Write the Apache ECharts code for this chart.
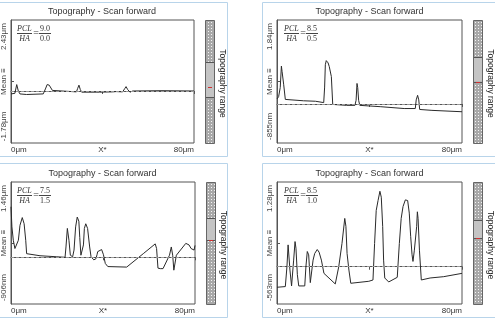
<!DOCTYPE html>
<html><head><meta charset="utf-8">
<script src="https://cdn.jsdelivr.net/npm/echarts@6/dist/echarts.min.js"></script>
<style>html,body{margin:0;padding:0;background:#fff}#c{width:495px;height:321px}</style>
</head><body><div id="c"></div><script>
// ---- data (x in µm, height in µm) ----
const titles = ['Topography - Scan forward','Topography - Scan forward','Topography - Scan forward','Topography - Scan forward'];
const pclValues = ['9.0','8.5','7.5','8.5'];
const haValues  = ['0.0','0.5','1.5','1.0'];
const yMin = [-1.78, -0.855, -0.906, -0.563];
const yMax = [2.43, 1.84, 1.46, 1.28];
const yTopLabels = ['2.43μm','1.84μm','1.46μm','1.28μm'];
const yBottomLabels = ['-1.78μm','-855nm','-906nm','-563nm'];
const meanLabel = 'Mean ≡';
const xTickLabels = ['0μm','X*','80μm'];
const xTickValues = [0, 40, 80];
const rangeTop = [0.34, 0.30, 0.295, 0.31];
const rangeBottom = [0.63, 0.50, 0.475, 0.46];
const rangeMark = [0.545, 0.50, 0.475, 0.46];

const x1 = [0,1.7,2.5,3.2,3.9,6.8,14.1,15.2,15.8,16.7,17.2,18.1,18.7,28.6,29.1,29.7,30.3,30.9,37.2,38.0,38.7,44.5,45.2,45.9,48.8,49.7,50.3,51.0,52.0,53.2,66,80];
const y1 = [-0.10,-0.08,0.22,0.0,-0.10,-0.12,-0.10,0.10,0.22,0.20,0.22,0.02,-0.04,-0.03,0.08,0.20,0.05,-0.04,-0.04,-0.07,-0.04,-0.03,0.02,-0.02,-0.03,0.08,0.15,0.05,-0.04,0.0,0.01,0.0];

const x2 = [0,0.7,1.4,1.9,2.2,2.5,2.9,3.6,11.5,16.6,20.2,20.6,20.9,21.3,22.1,22.6,23.1,23.5,24.1,30.1,33.7,34.2,34.6,34.9,35.3,35.8,44.9,55.0,59.8,60.2,60.8,61.3,61.7,67.0,80];
const y2 = [0.11,0.16,0.36,0.83,0.71,0.75,0.42,0.10,0.07,0.06,0.03,0.37,0.86,0.95,0.90,0.82,0.84,0.60,-0.01,-0.03,-0.03,0.08,0.45,0.36,0.08,-0.03,-0.06,-0.10,-0.10,0.09,0.19,0.09,-0.12,-0.14,-0.17];

const x3 = [0,0.4,1.0,1.7,2.5,3.2,3.9,4.9,5.7,6.4,6.8,7.2,12.6,19.9,23.5,23.9,24.5,24.8,25.2,25.8,26.8,27.4,28.1,28.8,29.5,29.9,30.4,30.9,31.5,31.9,32.5,33.3,34.2,34.8,35.4,36.0,36.9,37.4,37.7,38.5,39.4,40.2,41.0,41.7,42.1,42.8,50.3,57.5,62.7,63.3,63.9,64.3,64.9,66.1,68.9,69.7,70.3,70.8,71.4,71.9,76.0,76.7,77.4,78.3,79.1,79.6,80];
const y3 = [0.98,0.59,0.33,0.17,0.14,0.33,0.62,0.77,0.65,0.33,0.07,0.05,0.03,0.01,0.0,0.20,0.56,0.59,0.33,0.04,0.01,0.14,0.59,0.78,0.70,0.38,0.04,0.01,0.24,0.56,0.65,0.56,0.20,0.01,-0.02,-0.05,-0.03,0.05,0.11,0.14,0.15,0.05,-0.12,-0.15,-0.18,-0.19,-0.19,0.07,0.26,0.17,-0.21,-0.22,-0.22,-0.22,0.04,0.20,0.04,-0.25,-0.25,0.04,0.27,0.30,0.24,0.17,0.20,0.14,0.23];

const x4 = [0,3.6,4.3,4.8,5.2,5.6,6.3,6.8,7.2,7.8,8.2,8.8,9.4,12.0,12.5,13.1,13.7,14.4,14.8,15.6,16.3,17.4,18.2,19.2,20.3,25.2,26.7,28.1,29.3,29.8,30.3,31.1,31.9,39.7,41.5,42.2,42.9,43.7,44.5,45.1,45.7,46.1,46.6,48.3,52.0,52.9,53.7,54.5,55.5,56.5,57.2,57.8,58.4,58.8,59.4,59.8,60.4,60.7,61.0,61.6,62.4,66.2,72.1,80];
const y4 = [-0.31,-0.30,0.00,0.33,0.31,-0.05,-0.29,-0.29,0.10,0.38,0.28,-0.12,-0.29,-0.29,0.00,0.23,0.18,-0.24,-0.26,0.10,0.20,0.26,0.22,0.10,-0.10,-0.26,0.00,0.35,0.73,0.61,0.20,-0.05,-0.25,-0.22,-0.20,0.35,0.85,1.00,1.14,1.05,0.61,0.10,-0.17,-0.23,-0.16,0.35,0.73,0.91,1.01,1.00,0.81,0.46,0.18,0.08,0.25,0.28,0.61,0.83,0.73,0.25,-0.20,-0.17,-0.15,-0.10];

const xsAll = [x1,x2,x3,x4];
const ysAll = [y1,y2,y3,y4];

// ---- layout ----
const grids = [
  {left:10, top:20, width:184, height:123},
  {left:277, top:20, width:185, height:123},
  {left:10, top:182, width:185, height:122},
  {left:277, top:182, width:185, height:122}
];
const frames = [[-1,2,228,154],[262,2,240,154],[-1,163,228,154],[262,163,240,154]];
const sans = 'Arial, "Liberation Sans", sans-serif';
const serif = '"Liberation Serif", "DejaVu Serif", serif';

// dotted pattern
const pc = document.createElement('canvas');
pc.width = 3; pc.height = 3;
const pctx = pc.getContext('2d');
pctx.fillStyle = '#a8a8a8'; pctx.fillRect(0,0,3,3);
pctx.fillStyle = '#f4f4f4'; pctx.fillRect(1,1,1,1);

const option = {
  animation:false,
  backgroundColor:'#fff',
  title:[], grid:[], xAxis:[], yAxis:[], series:[], graphic:[]
};

for (let i=0;i<4;i++){
  const g = grids[i];
  const lo = yMin[i], hi = yMax[i], rng = hi-lo;
  const mid = lo + rng*0.5, lowPos = lo + rng*0.135, highPos = lo + rng*0.865;
  option.grid.push({left:g.left, top:g.top, width:g.width, height:g.height, show:true, borderColor:'#555', borderWidth:1, containLabel:false});
  option.title.push({text:titles[i], left:g.left+g.width/2, top:g.top-13, textAlign:'center', padding:0,
    textStyle:{fontSize:9, fontWeight:'normal', color:'#333', fontFamily:sans}});
  option.xAxis.push({type:'value', gridIndex:i, min:0, max:80,
    axisLine:{show:true, lineStyle:{color:'#555', width:1}},
    axisTick:{show:true, customValues:xTickValues, length:3, lineStyle:{color:'#555'}},
    splitLine:{show:false},
    axisLabel:{customValues:xTickValues, fontSize:8, color:'#333', fontFamily:sans, margin:3,
      alignMinLabel:'left', alignMaxLabel:'right',
      formatter:(v)=>{const k=xTickValues.indexOf(v); return k>=0?xTickLabels[k]:'';}}});
  const labPos = [lowPos, mid, highPos];
  const labTxt = [yBottomLabels[i], meanLabel, yTopLabels[i]];
  option.yAxis.push({type:'value', gridIndex:i, min:lo, max:hi,
    axisLine:{show:true, lineStyle:{color:'#555', width:1}},
    axisTick:{show:true, inside:true, customValues:[mid], length:3, lineStyle:{color:'#555'}},
    splitLine:{show:false},
    axisLabel:{customValues:labPos, rotate:90, fontSize:8, color:'#444', fontFamily:sans, margin:3,
      formatter:(v)=>{for(let k=0;k<3;k++){ if(Math.abs(v-labPos[k])<1e-6) return labTxt[k]; } return '';}}});
  option.series.push({type:'line', xAxisIndex:i, yAxisIndex:i, showSymbol:false, symbol:'none',
    data: xsAll[i].map((x,k)=>[x, ysAll[i][k]]),
    lineStyle:{color:'#2a2a2a', width:1}, silent:true,
    markLine:{silent:true, symbol:'none', label:{show:false},
      lineStyle:{color:'#999', type:[3,2], width:1}, data:[{yAxis:0}]}});

  // frame
  const f = frames[i];
  option.graphic.push({type:'rect', shape:{x:f[0]+0.5,y:f[1]+0.5,width:f[2],height:f[3]}, style:{fill:'none', stroke:'#b8d4ea', lineWidth:1}, silent:true, z:-1});
  // colorbar
  const cbx = g.left + g.width + 11, cbw = 9;
  option.graphic.push({type:'rect', shape:{x:cbx+0.5, y:g.top+0.5, width:cbw, height:g.height}, style:{fill:{image:pc, repeat:'repeat'}, stroke:'#666', lineWidth:1}, silent:true});
  const sy0 = g.top + g.height*rangeTop[i], sy1 = g.top + g.height*rangeBottom[i];
  option.graphic.push({type:'rect', shape:{x:cbx+1, y:sy0, width:cbw-1, height:sy1-sy0}, style:{fill:'#c4c4c4', stroke:null}, silent:true});
  option.graphic.push({type:'line', shape:{x1:cbx+1, y1:Math.round(sy0)+0.5, x2:cbx+cbw, y2:Math.round(sy0)+0.5}, style:{stroke:'#555', lineWidth:1}, silent:true});
  option.graphic.push({type:'line', shape:{x1:cbx+1, y1:Math.round(sy1)+0.5, x2:cbx+cbw, y2:Math.round(sy1)+0.5}, style:{stroke:'#555', lineWidth:1}, silent:true});
  const my = Math.round(g.top + g.height*rangeMark[i])+0.5;
  option.graphic.push({type:'line', shape:{x1:cbx+3, y1:my, x2:cbx+7, y2:my}, style:{stroke:'#d23030', lineWidth:1}, silent:true});
  // Topography range label
  option.graphic.push({type:'text', x:cbx+17, y:g.top+g.height/2+2, rotation:-Math.PI/2,
    style:{text:'Topography range', fontSize:8.5, fill:'#222', fontFamily:sans, align:'center', verticalAlign:'middle'}, silent:true});
  // formula
  const L = g.left, T = g.top;
  option.graphic.push({type:'text', x:L+7, y:T+9, style:{text:'PCL', font:'italic 8px '+serif, fill:'#333', align:'left', verticalAlign:'middle'}, silent:true});
  option.graphic.push({type:'line', shape:{x1:L+7, y1:T+13.5, x2:L+22, y2:T+13.5}, style:{stroke:'#444', lineWidth:1}, silent:true});
  option.graphic.push({type:'text', x:L+14.5, y:T+19, style:{text:'HA', font:'italic 8px '+serif, fill:'#333', align:'center', verticalAlign:'middle'}, silent:true});
  option.graphic.push({type:'text', x:L+26, y:T+13.5, style:{text:'=', font:'10px '+serif, fill:'#333', align:'center', verticalAlign:'middle'}, silent:true});
  option.graphic.push({type:'text', x:L+35, y:T+9, style:{text:pclValues[i], font:'8px '+serif, fill:'#333', align:'center', verticalAlign:'middle'}, silent:true});
  option.graphic.push({type:'line', shape:{x1:L+29, y1:T+13.5, x2:L+41, y2:T+13.5}, style:{stroke:'#444', lineWidth:1}, silent:true});
  option.graphic.push({type:'text', x:L+35, y:T+19, style:{text:haValues[i], font:'8px '+serif, fill:'#333', align:'center', verticalAlign:'middle'}, silent:true});
}

const chart = echarts.init(document.getElementById('c'), null, {renderer:'canvas'});
chart.setOption(option);
</script></body></html>
